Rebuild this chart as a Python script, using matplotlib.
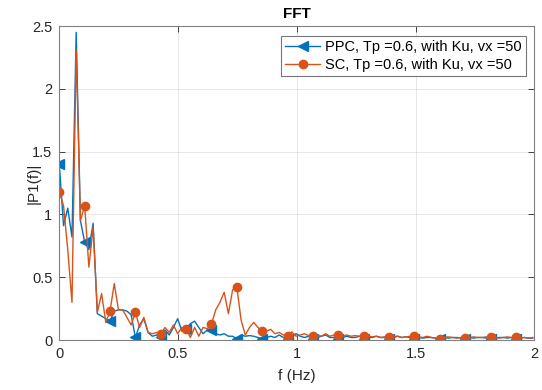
import matplotlib
matplotlib.use("Agg")
import matplotlib.pyplot as plt
from matplotlib.ticker import FormatStrFormatter

DF = 0.0178  # frequency step (Hz)

ppc_p1 = [
    1.40, 0.91, 1.05, 0.82, 2.45, 0.95, 0.78, 0.72, 0.93, 0.21,
    0.19, 0.17, 0.15, 0.23, 0.24, 0.24, 0.23, 0.20, 0.02, 0.12,
    0.17, 0.06, 0.03, 0.04, 0.02, 0.08, 0.04, 0.10, 0.17, 0.07,
    0.09, 0.13, 0.15, 0.10, 0.05, 0.08, 0.08, 0.05, 0.04, 0.05,
    0.03, 0.03, 0.01, 0.04, 0.03, 0.035, 0.03, 0.02, 0.01, 0.02,
    0.03, 0.02, 0.04, 0.02, 0.01, 0.03, 0.05, 0.03, 0.02, 0.03,
    0.01, 0.02, 0.03, 0.04, 0.02, 0.02, 0.01, 0.02, 0.03, 0.02,
    0.02, 0.03, 0.01, 0.02, 0.02, 0.03, 0.02, 0.02, 0.005, 0.02,
    0.03, 0.02, 0.025, 0.02, 0.01, 0.02, 0.015, 0.02, 0.02, 0.015,
    0.005, 0.02, 0.015, 0.02, 0.02, 0.015, 0.01, 0.02, 0.015, 0.02,
    0.02, 0.015, 0.01, 0.015, 0.02, 0.02, 0.015, 0.02, 0.005, 0.015,
    0.02, 0.015, 0.015,
]

sc_p1 = [
    1.18, 1.07, 0.72, 0.30, 2.31, 0.95, 1.07, 0.58, 0.90, 0.22,
    0.37, 0.14, 0.23, 0.45, 0.24, 0.24, 0.18, 0.12, 0.22, 0.10,
    0.18, 0.06, 0.05, 0.06, 0.05, 0.10, 0.06, 0.12, 0.05, 0.10,
    0.09, 0.02, 0.10, 0.03, 0.10, 0.09, 0.125, 0.24, 0.30, 0.38,
    0.21, 0.40, 0.42, 0.16, 0.04, 0.10, 0.14, 0.10, 0.07, 0.07,
    0.085, 0.05, 0.06, 0.04, 0.035, 0.065, 0.03, 0.04, 0.05, 0.035,
    0.03, 0.04, 0.03, 0.05, 0.03, 0.04, 0.04, 0.03, 0.04, 0.03,
    0.035, 0.03, 0.035, 0.03, 0.025, 0.03, 0.02, 0.025, 0.02, 0.025,
    0.03, 0.02, 0.025, 0.03, 0.03, 0.025, 0.02, 0.03, 0.02, 0.015,
    0.01, 0.02, 0.025, 0.02, 0.015, 0.02, 0.015, 0.02, 0.025, 0.02,
    0.02, 0.025, 0.02, 0.02, 0.015, 0.02, 0.025, 0.02, 0.02, 0.015,
    0.02, 0.015, 0.02,
]

freq = [i * DF for i in range(len(ppc_p1))]

BLUE = "#0072BD"
ORANGE = "#D95319"
AXCOL = "#262626"

plt.rcParams["font.family"] = ["Liberation Sans", "DejaVu Sans"]

fig = plt.figure(figsize=(5.42, 3.90), dpi=100)
ax = fig.add_axes([0.1094, 0.1282, 0.8764, 0.805])

ax.plot(freq, ppc_p1, color=BLUE, linewidth=1.0, marker="<", markersize=6.5,
        markevery=6, label="PPC, Tp =0.6, with Ku, vx =50")
ax.plot(freq, sc_p1, color=ORANGE, linewidth=1.0, marker="o", markersize=6.0,
        markevery=6, label="SC, Tp =0.6, with Ku, vx =50")

ax.set_xlim(0, 2)
ax.set_ylim(0, 2.5)
ax.set_xticks([0, 0.5, 1, 1.5, 2])
ax.set_yticks([0, 0.5, 1, 1.5, 2, 2.5])
ax.xaxis.set_major_formatter(FormatStrFormatter("%g"))
ax.yaxis.set_major_formatter(FormatStrFormatter("%g"))
ax.grid(True, color="#262626", alpha=0.12, linewidth=0.6)
ax.set_axisbelow(True)
ax.tick_params(direction="in", top=True, right=True, length=4, width=0.6,
               color=AXCOL, labelsize=10.5, labelcolor=AXCOL, pad=5)
for spine in ax.spines.values():
    spine.set_color("#808080")
    spine.set_linewidth(0.8)

ax.set_title("FFT", fontsize=11, fontweight="bold", color="#000000", pad=6)
ax.set_xlabel("f (Hz)", fontsize=11, color=AXCOL, labelpad=6)
ax.set_ylabel("|P1(f)|", fontsize=11, color=AXCOL, labelpad=-6)

leg = ax.legend(loc="upper right", bbox_to_anchor=(0.982, 0.968), borderaxespad=0,
                fontsize=10.5, frameon=True, fancybox=False, handlelength=2.4,
                handletextpad=0.3, borderpad=0.3, labelspacing=0.25)
leg.get_frame().set_edgecolor("#555555")
leg.get_frame().set_linewidth(0.8)

fig.savefig("out.png", dpi=100)
